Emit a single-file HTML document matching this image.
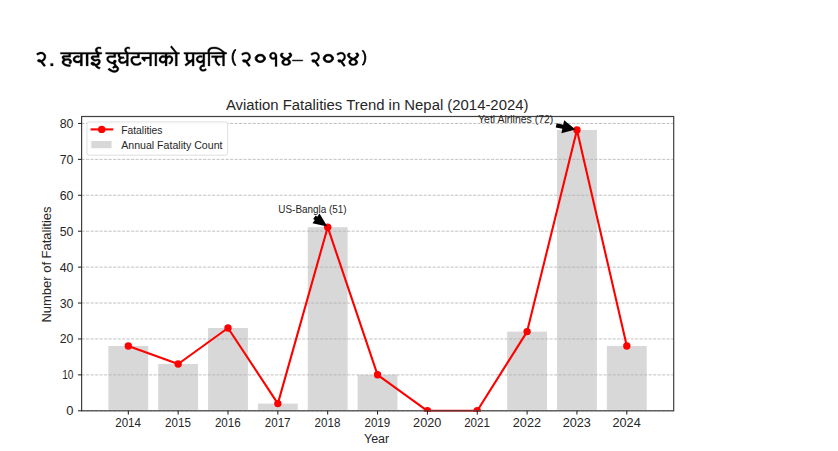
<!DOCTYPE html>
<html><head><meta charset="utf-8"><style>
html,body{margin:0;padding:0;background:#fff;width:838px;height:451px;overflow:hidden}
svg{display:block}
text{font-family:"Liberation Sans", sans-serif;fill:#262626}
</style></head><body>
<svg width="838" height="451" viewBox="0 0 838 451">
<path fill="#000" fill-rule="evenodd" stroke="#000" stroke-width="0.3" stroke-linejoin="round" d="M39.4 52.3 37.5 53.0 36.4 53.8 37.5 55.3 38.5 54.7 40.3 53.9 42.2 54.0 42.6 54.2 43.7 55.4 43.9 56.0 43.9 57.4 43.3 58.7 41.8 60.1 41.3 60.3 40.3 59.6 39.4 59.3 38.7 59.3 37.6 59.9 37.4 60.3 37.4 61.0 37.7 61.6 38.6 62.1 39.2 62.3 40.4 62.2 43.8 66.4 44.2 66.6 45.7 65.6 42.6 61.6 43.6 61.0 44.8 60.0 45.5 58.8 45.9 57.6 45.8 55.3 45.0 53.8 43.3 52.5 42.1 52.1 40.2 52.1ZM50.6 63.4 50.6 65.9 53.1 65.9 53.1 63.4ZM101.0 47.3 99.7 46.9 98.2 46.9 96.8 47.4 95.8 48.2 95.3 49.2 95.2 50.4 95.5 51.4 96.0 52.1 95.9 52.4 60.4 52.4 60.4 54.1 68.6 54.2 68.5 55.4 63.7 55.4 62.8 55.8 62.1 56.5 61.9 57.3 62.0 58.0 62.4 58.7 63.3 59.7 62.5 60.6 62.0 61.5 61.9 62.3 62.1 63.3 63.4 64.8 65.5 65.9 67.9 66.6 70.1 66.7 70.5 64.8 67.5 64.6 65.3 63.8 64.3 62.9 64.1 61.9 64.9 61.0 65.7 60.6 67.5 60.3 68.6 60.5 69.6 61.3 69.5 62.1 68.6 62.8 69.9 63.9 70.4 64.0 71.3 63.3 71.7 62.3 71.7 60.9 71.4 60.2 70.1 59.0 68.9 58.6 66.5 58.5 65.4 58.8 64.4 58.1 64.1 57.4 64.6 57.2 70.7 57.2 70.8 54.1 80.2 54.1 80.3 59.5 79.1 60.7 78.2 61.1 76.9 61.1 76.1 60.8 75.1 59.7 75.2 58.6 76.2 57.6 77.0 57.3 78.0 57.3 78.9 57.8 80.0 56.2 78.1 55.5 76.1 55.7 74.4 56.5 73.2 57.9 73.0 58.6 73.0 60.0 73.4 61.0 74.2 61.9 75.7 62.8 76.5 63.0 78.5 63.0 80.2 62.3 80.3 65.9 82.4 65.9 82.4 54.2 86.0 54.1 86.1 65.9 88.2 65.9 88.2 54.2 96.9 54.1 96.9 55.7 92.8 55.7 92.1 55.9 91.1 56.7 90.8 58.0 91.5 59.2 93.3 60.7 94.5 61.3 95.8 61.3 97.3 60.8 98.1 60.8 98.4 61.5 97.9 62.7 96.9 63.6 96.3 63.9 95.7 63.9 94.0 62.4 92.9 62.0 92.0 62.0 91.4 62.3 90.8 62.9 90.7 63.9 91.4 64.8 92.7 65.4 94.3 65.6 96.8 67.9 99.3 69.2 100.5 67.5 98.7 66.9 97.2 65.6 98.6 65.0 99.7 63.9 100.4 62.4 100.5 61.2 100.3 60.3 99.3 59.2 98.6 58.9 97.2 58.9 95.6 59.4 94.8 59.4 93.3 58.1 93.1 57.7 93.7 57.5 99.2 57.5 99.2 54.2 101.8 54.1 101.8 52.4 98.7 52.3 97.5 51.0 97.3 50.3 97.5 49.3 98.4 48.6 99.2 48.5 101.0 49.0ZM179.5 52.4 177.1 52.4 171.6 45.7 170.3 47.0 174.7 52.2 174.6 52.4 128.2 52.4 127.4 51.9 126.8 51.2 126.5 50.6 126.5 49.6 127.2 48.7 127.7 48.5 128.5 48.6 129.8 49.1 129.8 47.2 128.7 46.9 127.2 46.9 125.5 47.7 124.6 49.0 124.5 50.7 125.3 52.2 125.2 52.4 105.6 52.4 105.6 54.1 113.7 54.2 113.6 55.7 109.4 55.7 108.1 56.2 107.2 57.1 106.8 57.8 106.6 59.5 107.2 61.1 108.6 62.5 110.2 63.3 111.5 63.7 113.4 63.9 114.4 65.8 113.0 66.6 112.3 67.4 113.6 68.7 114.2 68.1 115.0 67.7 116.2 67.7 116.9 68.5 116.8 69.5 116.2 70.1 115.2 70.5 114.4 70.6 112.7 70.2 110.9 69.3 109.3 68.0 107.8 69.6 109.9 71.1 112.0 72.1 113.4 72.4 115.3 72.4 116.7 72.0 117.5 71.5 118.3 70.7 118.8 69.6 118.8 68.2 118.4 67.2 117.7 66.4 116.6 65.6 115.2 63.3 116.3 61.9 116.3 60.8 115.5 60.0 114.8 59.9 114.2 60.1 113.7 60.6 113.1 62.1 111.5 61.9 110.1 61.3 109.1 60.4 108.6 59.7 108.5 58.8 108.7 58.3 109.6 57.6 115.7 57.5 115.8 54.1 118.2 54.2 117.9 55.1 118.0 56.2 118.7 57.4 119.5 57.9 118.7 58.7 118.3 59.8 118.4 61.1 118.9 62.1 120.2 63.2 121.5 63.7 123.8 63.6 125.4 62.9 126.3 62.3 126.4 65.9 128.3 65.9 128.4 54.1 137.5 54.2 137.5 56.0 137.3 56.2 133.1 56.3 132.2 56.7 131.3 57.6 130.7 59.0 130.7 61.1 131.6 63.2 133.2 64.7 134.1 65.2 135.4 65.6 137.7 65.6 139.4 65.1 140.5 64.4 141.5 63.1 140.0 61.8 139.3 62.8 138.5 63.3 137.4 63.7 135.7 63.7 134.3 63.1 133.3 62.1 132.7 60.8 132.7 59.3 133.5 58.2 134.2 58.0 139.5 58.0 139.6 54.1 149.4 54.1 149.6 54.3 149.6 56.8 149.4 57.0 142.2 57.0 141.6 57.4 141.5 58.2 142.7 60.0 144.3 61.4 144.7 61.4 145.2 61.0 145.4 60.6 145.4 59.1 145.6 58.9 149.4 58.8 149.6 59.0 149.6 65.9 151.5 65.9 151.6 54.1 154.7 54.1 154.9 54.3 154.9 65.9 156.8 65.9 156.8 54.3 157.0 54.1 165.1 54.2 165.0 55.9 164.3 55.5 162.4 55.5 161.4 55.8 160.4 56.5 159.7 57.3 159.0 58.7 159.0 60.3 159.2 61.0 159.7 61.7 160.6 62.6 162.0 63.2 163.7 63.2 164.9 62.6 165.1 62.7 165.1 65.9 167.1 65.9 167.1 59.6 167.6 58.5 168.4 57.7 169.0 57.4 170.1 57.4 171.0 58.6 171.0 60.0 170.5 61.2 169.9 62.0 168.4 63.2 170.1 64.3 170.3 64.3 171.9 62.6 172.5 61.5 173.0 60.2 173.0 58.4 172.2 56.8 171.4 56.0 170.4 55.5 168.8 55.5 167.2 56.3 167.1 54.2 175.2 54.1 175.3 65.9 177.3 65.9 177.3 54.2 179.5 54.1ZM165.0 56.1 165.0 60.1 163.7 61.2 161.9 61.2 161.0 60.1 161.1 58.7 162.0 57.7 162.6 57.4 163.9 57.4 164.6 57.8ZM120.6 54.1 126.4 54.2 126.4 59.7 124.8 61.1 123.6 61.7 121.5 61.7 121.0 61.4 120.3 60.5 120.4 59.7 121.4 58.8 122.1 58.6 124.4 58.6 123.8 56.8 121.3 56.8 120.7 56.6 120.0 55.9 119.9 55.1ZM226.7 52.4 225.0 52.3 221.6 49.4 219.0 47.9 216.9 47.2 214.5 46.9 211.3 47.2 209.5 48.0 208.4 49.1 207.9 50.0 207.7 50.7 207.7 52.4 183.9 52.4 183.9 54.1 185.9 54.2 185.9 58.7 186.1 59.6 186.5 60.4 187.4 61.3 188.3 61.8 188.0 62.2 184.9 64.4 184.8 64.7 185.9 66.2 192.1 61.4 192.2 65.9 194.1 65.9 194.1 54.2 202.6 54.1 202.8 54.3 202.8 59.4 201.8 60.6 200.8 61.1 199.6 61.1 198.4 60.3 198.0 59.4 198.3 58.3 199.2 57.5 200.7 57.3 201.3 57.7 201.6 57.6 202.4 56.2 201.3 55.6 199.3 55.6 197.6 56.4 196.4 57.8 196.1 59.5 196.4 60.7 196.9 61.5 197.9 62.4 199.4 63.0 201.2 63.0 202.6 62.3 202.8 62.4 202.8 64.7 201.2 65.3 200.0 66.4 199.5 67.5 199.5 68.7 200.1 70.0 200.7 70.6 201.8 71.2 204.1 71.3 204.9 71.1 206.6 70.1 205.7 68.4 204.8 69.0 203.8 69.4 202.4 69.4 201.9 69.1 201.4 68.4 201.5 67.5 202.2 66.9 202.7 66.7 204.7 66.7 204.8 54.1 207.9 54.1 208.1 54.3 208.1 65.9 209.9 65.9 209.9 54.3 210.1 54.1 222.5 54.1 222.5 55.8 211.5 55.8 211.5 57.6 215.4 57.7 214.9 58.8 214.9 60.0 215.4 62.0 216.6 64.0 217.6 65.0 219.1 66.1 220.3 64.6 218.8 63.6 217.4 61.8 216.8 60.1 216.9 58.6 217.6 57.9 218.3 57.6 222.5 57.6 222.6 65.9 224.5 65.9 224.5 54.2 226.7 54.1ZM187.9 54.1 192.0 54.1 192.2 54.3 192.2 59.0 190.4 60.3 189.0 60.3 188.1 59.5 187.9 59.1ZM209.6 50.9 210.2 49.9 211.3 49.1 213.0 48.7 215.5 48.7 217.2 49.0 219.4 49.9 221.0 51.0 222.4 52.3 209.9 52.4 209.6 52.0ZM244.3 52.4 242.5 53.1 241.4 53.9 242.5 55.4 243.4 54.7 245.2 54.0 247.0 54.1 247.4 54.3 248.5 55.5 248.7 56.1 248.7 57.5 248.1 58.8 246.6 60.1 246.1 60.3 245.2 59.6 244.3 59.4 243.6 59.4 242.6 59.9 242.4 60.3 242.4 61.0 242.7 61.6 243.5 62.2 244.1 62.4 245.3 62.3 248.6 66.4 249.0 66.6 250.4 65.6 247.4 61.6 248.4 61.0 249.5 60.0 250.2 58.9 250.6 57.7 250.5 55.4 249.7 53.9 248.1 52.6 246.9 52.2 245.1 52.2ZM271.5 52.5 270.2 53.6 269.7 54.4 269.4 55.8 269.7 57.3 270.6 58.6 271.9 59.4 273.3 59.5 274.3 59.4 274.8 59.1 275.1 59.2 275.1 66.6 277.0 66.6 277.0 56.1 276.7 54.5 276.0 53.4 274.8 52.5 273.8 52.2 272.4 52.2ZM273.0 53.7 273.6 53.8 274.1 54.1 274.7 54.8 274.9 55.4 274.9 56.4 274.7 56.8 274.2 57.4 273.5 57.8 272.7 57.8 272.3 57.6 271.6 56.9 271.3 55.9 271.5 54.9 271.9 54.3ZM290.4 52.5 288.3 53.4 289.6 54.9 289.6 55.5 289.2 56.0 287.5 57.3 286.1 58.0 284.0 57.1 282.7 55.9 282.5 54.8 283.8 53.6 283.7 53.4 281.8 52.7 280.5 54.0 280.2 54.5 280.2 55.8 280.8 56.9 282.4 58.3 284.0 59.1 282.5 60.1 281.8 61.1 281.6 62.0 281.8 63.5 283.0 64.8 284.5 65.4 286.5 65.6 288.1 65.3 289.4 64.7 290.5 63.5 290.8 62.8 290.8 61.8 290.4 60.9 289.8 60.1 288.3 59.0 289.4 58.4 290.8 57.4 291.9 55.8 291.9 54.5 291.6 53.9ZM285.9 60.1 286.2 60.1 287.2 60.6 288.1 61.3 288.4 62.0 288.2 63.1 287.5 63.7 286.6 63.9 285.6 63.9 284.9 63.7 284.3 63.2 283.9 62.5 283.9 62.0 284.3 61.2ZM313.5 52.4 311.8 53.1 310.7 53.9 311.8 55.4 312.6 54.7 314.4 54.0 316.1 54.1 316.5 54.3 317.6 55.5 317.8 56.1 317.8 57.5 317.2 58.8 315.7 60.1 315.2 60.3 314.4 59.6 313.5 59.4 312.8 59.4 311.9 59.9 311.7 60.3 311.7 61.0 312.0 61.6 312.7 62.2 313.3 62.4 314.5 62.3 317.7 66.4 318.1 66.6 319.4 65.6 316.5 61.6 317.5 61.0 318.5 60.0 319.2 58.9 319.6 57.7 319.5 55.4 318.7 53.9 317.2 52.6 316.0 52.2 314.3 52.2ZM339.5 52.4 337.8 53.1 336.7 53.9 337.8 55.4 338.6 54.7 340.4 54.0 342.1 54.1 342.5 54.3 343.6 55.5 343.8 56.1 343.8 57.5 343.2 58.8 341.7 60.1 341.2 60.3 340.4 59.6 339.5 59.4 338.8 59.4 337.9 59.9 337.7 60.3 337.7 61.0 338.0 61.6 338.7 62.2 339.3 62.4 340.5 62.3 343.7 66.4 344.1 66.6 345.4 65.6 342.5 61.6 343.5 61.0 344.5 60.0 345.2 58.9 345.6 57.7 345.5 55.4 344.7 53.9 343.2 52.6 342.0 52.2 340.3 52.2ZM357.4 52.5 355.4 53.4 356.6 54.9 356.6 55.5 356.2 56.0 354.5 57.3 353.2 58.0 351.1 57.1 349.7 55.9 349.6 54.8 350.8 53.6 350.7 53.4 348.9 52.7 347.6 54.0 347.3 54.5 347.3 55.8 347.9 56.9 349.5 58.3 351.1 59.1 349.6 60.1 348.9 61.1 348.7 62.0 348.9 63.5 350.1 64.8 351.6 65.4 353.5 65.6 355.1 65.3 356.5 64.7 357.5 63.5 357.8 62.8 357.8 61.8 357.4 60.9 356.8 60.1 355.4 59.0 356.5 58.4 357.8 57.4 358.9 55.8 358.9 54.5 358.6 53.9ZM352.9 60.1 353.3 60.1 354.3 60.6 355.1 61.3 355.5 62.0 355.2 63.1 354.5 63.7 353.6 63.9 352.7 63.9 351.9 63.7 351.3 63.2 351.0 62.5 351.0 62.0 351.3 61.2Z"/>
<path fill="#000" fill-rule="evenodd" stroke="#000" stroke-width="0.9" stroke-linejoin="round" d="M234.6 49.7 234.0 50.5 233.3 51.8 232.4 54.2 232.1 56.5 232.1 58.7 232.4 60.3 232.7 61.7 233.5 63.6 234.6 65.3 236.0 65.3 235.2 64.2 234.2 62.2 233.5 60.1 233.2 58.1 233.2 56.4 233.7 54.0 234.7 51.6 236.0 49.8ZM362.2 50.6 363.2 52.1 363.9 53.5 364.4 55.0 364.7 56.9 364.7 58.7 364.3 61.0 363.5 63.1 362.2 65.0 363.5 65.0 364.5 63.5 365.0 62.3 365.5 60.6 365.8 58.5 365.8 56.4 365.2 53.9 364.5 52.3 364.0 51.4 363.4 50.6Z"/>
<path fill="#000" fill-rule="evenodd" stroke="#000" stroke-width="0.75" stroke-linejoin="round" d="M259.3 54.3 258.2 54.5 257.1 55.1 255.9 56.2 255.2 57.4 255.1 58.9 255.7 60.5 257.5 61.9 259.3 62.5 261.3 62.5 263.1 61.9 264.7 60.6 265.4 59.4 265.5 57.8 264.7 56.2 263.5 55.1 262.4 54.5 261.3 54.3ZM259.5 55.9 261.1 55.9 261.9 56.2 262.8 56.9 263.5 58.0 263.5 58.8 262.9 59.9 262.2 60.5 261.0 60.9 259.6 60.9 258.7 60.6 257.7 59.9 257.1 58.8 257.1 57.9 257.7 56.9 258.7 56.2ZM327.4 54.3 326.3 54.5 325.2 55.1 324.0 56.2 323.3 57.4 323.2 58.9 323.8 60.5 325.6 61.9 327.4 62.5 329.4 62.5 331.2 61.9 332.8 60.6 333.5 59.4 333.6 57.8 332.8 56.2 331.6 55.1 330.5 54.5 329.4 54.3ZM327.6 55.9 329.2 55.9 330.0 56.2 330.9 56.9 331.6 58.0 331.6 58.8 331.0 59.9 330.3 60.5 329.1 60.9 327.7 60.9 326.8 60.6 325.8 59.9 325.2 58.8 325.2 57.9 325.8 56.9 326.8 56.2Z"/>
<path fill="#000" fill-rule="evenodd" stroke="#000" stroke-width="0.7" stroke-linejoin="round" d="M292.4 60.2 292.4 60.8 302.7 60.8 302.7 60.2Z"/>

<rect x="108.36" y="346.00" width="39.88" height="63.90" fill="#d8d8d8"/>
<rect x="158.21" y="364.00" width="39.88" height="45.90" fill="#d8d8d8"/>
<rect x="208.06" y="328.00" width="39.88" height="81.90" fill="#d8d8d8"/>
<rect x="257.91" y="403.60" width="39.88" height="6.30" fill="#d8d8d8"/>
<rect x="307.76" y="227.20" width="39.88" height="182.70" fill="#d8d8d8"/>
<rect x="357.61" y="374.80" width="39.88" height="35.10" fill="#d8d8d8"/>
<rect x="507.16" y="331.60" width="39.88" height="78.30" fill="#d8d8d8"/>
<rect x="557.01" y="130.00" width="39.88" height="279.90" fill="#d8d8d8"/>
<rect x="606.86" y="346.00" width="39.88" height="63.90" fill="#d8d8d8"/>
<line x1="81.60" y1="410.80" x2="673.70" y2="410.80" stroke="#b0b0b0" stroke-width="0.9" stroke-dasharray="3.1 1.4" opacity="0.85"/>
<line x1="81.60" y1="374.88" x2="673.70" y2="374.88" stroke="#b0b0b0" stroke-width="0.9" stroke-dasharray="3.1 1.4" opacity="0.85"/>
<line x1="81.60" y1="338.96" x2="673.70" y2="338.96" stroke="#b0b0b0" stroke-width="0.9" stroke-dasharray="3.1 1.4" opacity="0.85"/>
<line x1="81.60" y1="303.04" x2="673.70" y2="303.04" stroke="#b0b0b0" stroke-width="0.9" stroke-dasharray="3.1 1.4" opacity="0.85"/>
<line x1="81.60" y1="267.12" x2="673.70" y2="267.12" stroke="#b0b0b0" stroke-width="0.9" stroke-dasharray="3.1 1.4" opacity="0.85"/>
<line x1="81.60" y1="231.20" x2="673.70" y2="231.20" stroke="#b0b0b0" stroke-width="0.9" stroke-dasharray="3.1 1.4" opacity="0.85"/>
<line x1="81.60" y1="195.28" x2="673.70" y2="195.28" stroke="#b0b0b0" stroke-width="0.9" stroke-dasharray="3.1 1.4" opacity="0.85"/>
<line x1="81.60" y1="159.36" x2="673.70" y2="159.36" stroke="#b0b0b0" stroke-width="0.9" stroke-dasharray="3.1 1.4" opacity="0.85"/>
<line x1="81.60" y1="123.44" x2="673.70" y2="123.44" stroke="#b0b0b0" stroke-width="0.9" stroke-dasharray="3.1 1.4" opacity="0.85"/>
<clipPath id="ax"><rect x="81.6" y="116.5" width="592.10" height="295.30"/></clipPath><g clip-path="url(#ax)">
<polyline points="128.30,346.00 178.15,364.00 228.00,328.00 277.85,403.60 327.70,227.20 377.55,374.80 427.40,410.80 477.25,410.80 527.10,331.60 576.95,130.00 626.80,346.00" fill="none" stroke="#ff0000" stroke-width="2.1" stroke-linejoin="round"/>
<circle cx="128.30" cy="346.00" r="3.7" fill="#ff0000"/>
<circle cx="178.15" cy="364.00" r="3.7" fill="#ff0000"/>
<circle cx="228.00" cy="328.00" r="3.7" fill="#ff0000"/>
<circle cx="277.85" cy="403.60" r="3.7" fill="#ff0000"/>
<circle cx="327.70" cy="227.20" r="3.7" fill="#ff0000"/>
<circle cx="377.55" cy="374.80" r="3.7" fill="#ff0000"/>
<circle cx="427.40" cy="410.80" r="3.7" fill="#ff0000"/>
<circle cx="477.25" cy="410.80" r="3.7" fill="#ff0000"/>
<circle cx="527.10" cy="331.60" r="3.7" fill="#ff0000"/>
<circle cx="576.95" cy="130.00" r="3.7" fill="#ff0000"/>
<circle cx="626.80" cy="346.00" r="3.7" fill="#ff0000"/>
</g>
<rect x="81.6" y="116.5" width="592.10" height="294.30" fill="none" stroke="#404040" stroke-width="1.2"/>
<line x1="128.30" y1="410.8" x2="128.30" y2="414.6" stroke="#1a1a1a" stroke-width="1"/>
<text x="128.10" y="427.3" text-anchor="middle" font-size="12.2" textLength="25.8" lengthAdjust="spacingAndGlyphs">2014</text>
<line x1="178.15" y1="410.8" x2="178.15" y2="414.6" stroke="#1a1a1a" stroke-width="1"/>
<text x="177.95" y="427.3" text-anchor="middle" font-size="12.2" textLength="25.8" lengthAdjust="spacingAndGlyphs">2015</text>
<line x1="228.00" y1="410.8" x2="228.00" y2="414.6" stroke="#1a1a1a" stroke-width="1"/>
<text x="227.80" y="427.3" text-anchor="middle" font-size="12.2" textLength="25.8" lengthAdjust="spacingAndGlyphs">2016</text>
<line x1="277.85" y1="410.8" x2="277.85" y2="414.6" stroke="#1a1a1a" stroke-width="1"/>
<text x="277.65" y="427.3" text-anchor="middle" font-size="12.2" textLength="25.8" lengthAdjust="spacingAndGlyphs">2017</text>
<line x1="327.70" y1="410.8" x2="327.70" y2="414.6" stroke="#1a1a1a" stroke-width="1"/>
<text x="327.50" y="427.3" text-anchor="middle" font-size="12.2" textLength="25.8" lengthAdjust="spacingAndGlyphs">2018</text>
<line x1="377.55" y1="410.8" x2="377.55" y2="414.6" stroke="#1a1a1a" stroke-width="1"/>
<text x="377.35" y="427.3" text-anchor="middle" font-size="12.2" textLength="25.8" lengthAdjust="spacingAndGlyphs">2019</text>
<line x1="427.40" y1="410.8" x2="427.40" y2="414.6" stroke="#1a1a1a" stroke-width="1"/>
<text x="427.20" y="427.3" text-anchor="middle" font-size="12.2" textLength="28.2" lengthAdjust="spacingAndGlyphs">2020</text>
<line x1="477.25" y1="410.8" x2="477.25" y2="414.6" stroke="#1a1a1a" stroke-width="1"/>
<text x="477.05" y="427.3" text-anchor="middle" font-size="12.2" textLength="25.8" lengthAdjust="spacingAndGlyphs">2021</text>
<line x1="527.10" y1="410.8" x2="527.10" y2="414.6" stroke="#1a1a1a" stroke-width="1"/>
<text x="526.90" y="427.3" text-anchor="middle" font-size="12.2" textLength="28.2" lengthAdjust="spacingAndGlyphs">2022</text>
<line x1="576.95" y1="410.8" x2="576.95" y2="414.6" stroke="#1a1a1a" stroke-width="1"/>
<text x="576.75" y="427.3" text-anchor="middle" font-size="12.2" textLength="28.2" lengthAdjust="spacingAndGlyphs">2023</text>
<line x1="626.80" y1="410.8" x2="626.80" y2="414.6" stroke="#1a1a1a" stroke-width="1"/>
<text x="626.60" y="427.3" text-anchor="middle" font-size="12.2" textLength="28.2" lengthAdjust="spacingAndGlyphs">2024</text>
<line x1="78.00" y1="410.80" x2="81.6" y2="410.80" stroke="#1a1a1a" stroke-width="1"/>
<text x="73.4" y="415.30" text-anchor="end" font-size="12.6" textLength="7.2" lengthAdjust="spacingAndGlyphs">0</text>
<line x1="78.00" y1="374.88" x2="81.6" y2="374.88" stroke="#1a1a1a" stroke-width="1"/>
<text x="73.4" y="379.38" text-anchor="end" font-size="12.6" textLength="11.2" lengthAdjust="spacingAndGlyphs">10</text>
<line x1="78.00" y1="338.96" x2="81.6" y2="338.96" stroke="#1a1a1a" stroke-width="1"/>
<text x="73.4" y="343.46" text-anchor="end" font-size="12.6" textLength="13.7" lengthAdjust="spacingAndGlyphs">20</text>
<line x1="78.00" y1="303.04" x2="81.6" y2="303.04" stroke="#1a1a1a" stroke-width="1"/>
<text x="73.4" y="307.54" text-anchor="end" font-size="12.6" textLength="13.7" lengthAdjust="spacingAndGlyphs">30</text>
<line x1="78.00" y1="267.12" x2="81.6" y2="267.12" stroke="#1a1a1a" stroke-width="1"/>
<text x="73.4" y="271.62" text-anchor="end" font-size="12.6" textLength="13.7" lengthAdjust="spacingAndGlyphs">40</text>
<line x1="78.00" y1="231.20" x2="81.6" y2="231.20" stroke="#1a1a1a" stroke-width="1"/>
<text x="73.4" y="235.70" text-anchor="end" font-size="12.6" textLength="13.7" lengthAdjust="spacingAndGlyphs">50</text>
<line x1="78.00" y1="195.28" x2="81.6" y2="195.28" stroke="#1a1a1a" stroke-width="1"/>
<text x="73.4" y="199.78" text-anchor="end" font-size="12.6" textLength="13.7" lengthAdjust="spacingAndGlyphs">60</text>
<line x1="78.00" y1="159.36" x2="81.6" y2="159.36" stroke="#1a1a1a" stroke-width="1"/>
<text x="73.4" y="163.86" text-anchor="end" font-size="12.6" textLength="13.7" lengthAdjust="spacingAndGlyphs">70</text>
<line x1="78.00" y1="123.44" x2="81.6" y2="123.44" stroke="#1a1a1a" stroke-width="1"/>
<text x="73.4" y="127.94" text-anchor="end" font-size="12.6" textLength="13.7" lengthAdjust="spacingAndGlyphs">80</text>
<text x="376.6" y="442.9" text-anchor="middle" font-size="12" textLength="25.2" lengthAdjust="spacingAndGlyphs">Year</text>
<text transform="translate(50.9 264.5) rotate(-90)" x="0" y="0" text-anchor="middle" font-size="12" textLength="116" lengthAdjust="spacingAndGlyphs">Number of Fatalities</text>
<text x="377.2" y="109.6" text-anchor="middle" font-size="14" textLength="302.5" lengthAdjust="spacingAndGlyphs">Aviation Fatalities Trend in Nepal (2014-2024)</text>
<text x="312.5" y="213.1" text-anchor="middle" font-size="10.3" textLength="68.3" lengthAdjust="spacingAndGlyphs">US-Bangla (51)</text>
<text x="515.7" y="123" text-anchor="middle" font-size="10.3" textLength="75.3" lengthAdjust="spacingAndGlyphs">Yeti Airlines (72)</text>
<polygon points="555.76,127.45 562.34,128.83 561.40,133.29 575.50,129.40 564.15,120.17 563.22,124.63 556.64,123.25" fill="#000"/>
<polygon points="313.17,218.90 314.80,220.07 312.52,223.24 327.30,226.50 319.53,213.50 317.25,216.67 315.63,215.50" fill="#000"/>
<rect x="87" y="121.9" width="140.6" height="33.3" rx="2.2" fill="#fff" fill-opacity="0.85" stroke="#dcdcdc" stroke-width="0.9"/>
<line x1="90.6" y1="129.4" x2="113.3" y2="129.4" stroke="#ff0000" stroke-width="2.1"/>
<circle cx="101.7" cy="129.4" r="3.7" fill="#ff0000"/>
<rect x="91.3" y="141" width="20.2" height="7.2" fill="#d8d8d8"/>
<text x="121.2" y="133.9" font-size="10.5" textLength="41.3" lengthAdjust="spacingAndGlyphs">Fatalities</text>
<text x="121.2" y="149.1" font-size="10.5" textLength="101.3" lengthAdjust="spacingAndGlyphs">Annual Fatality Count</text>
</svg>
</body></html>
